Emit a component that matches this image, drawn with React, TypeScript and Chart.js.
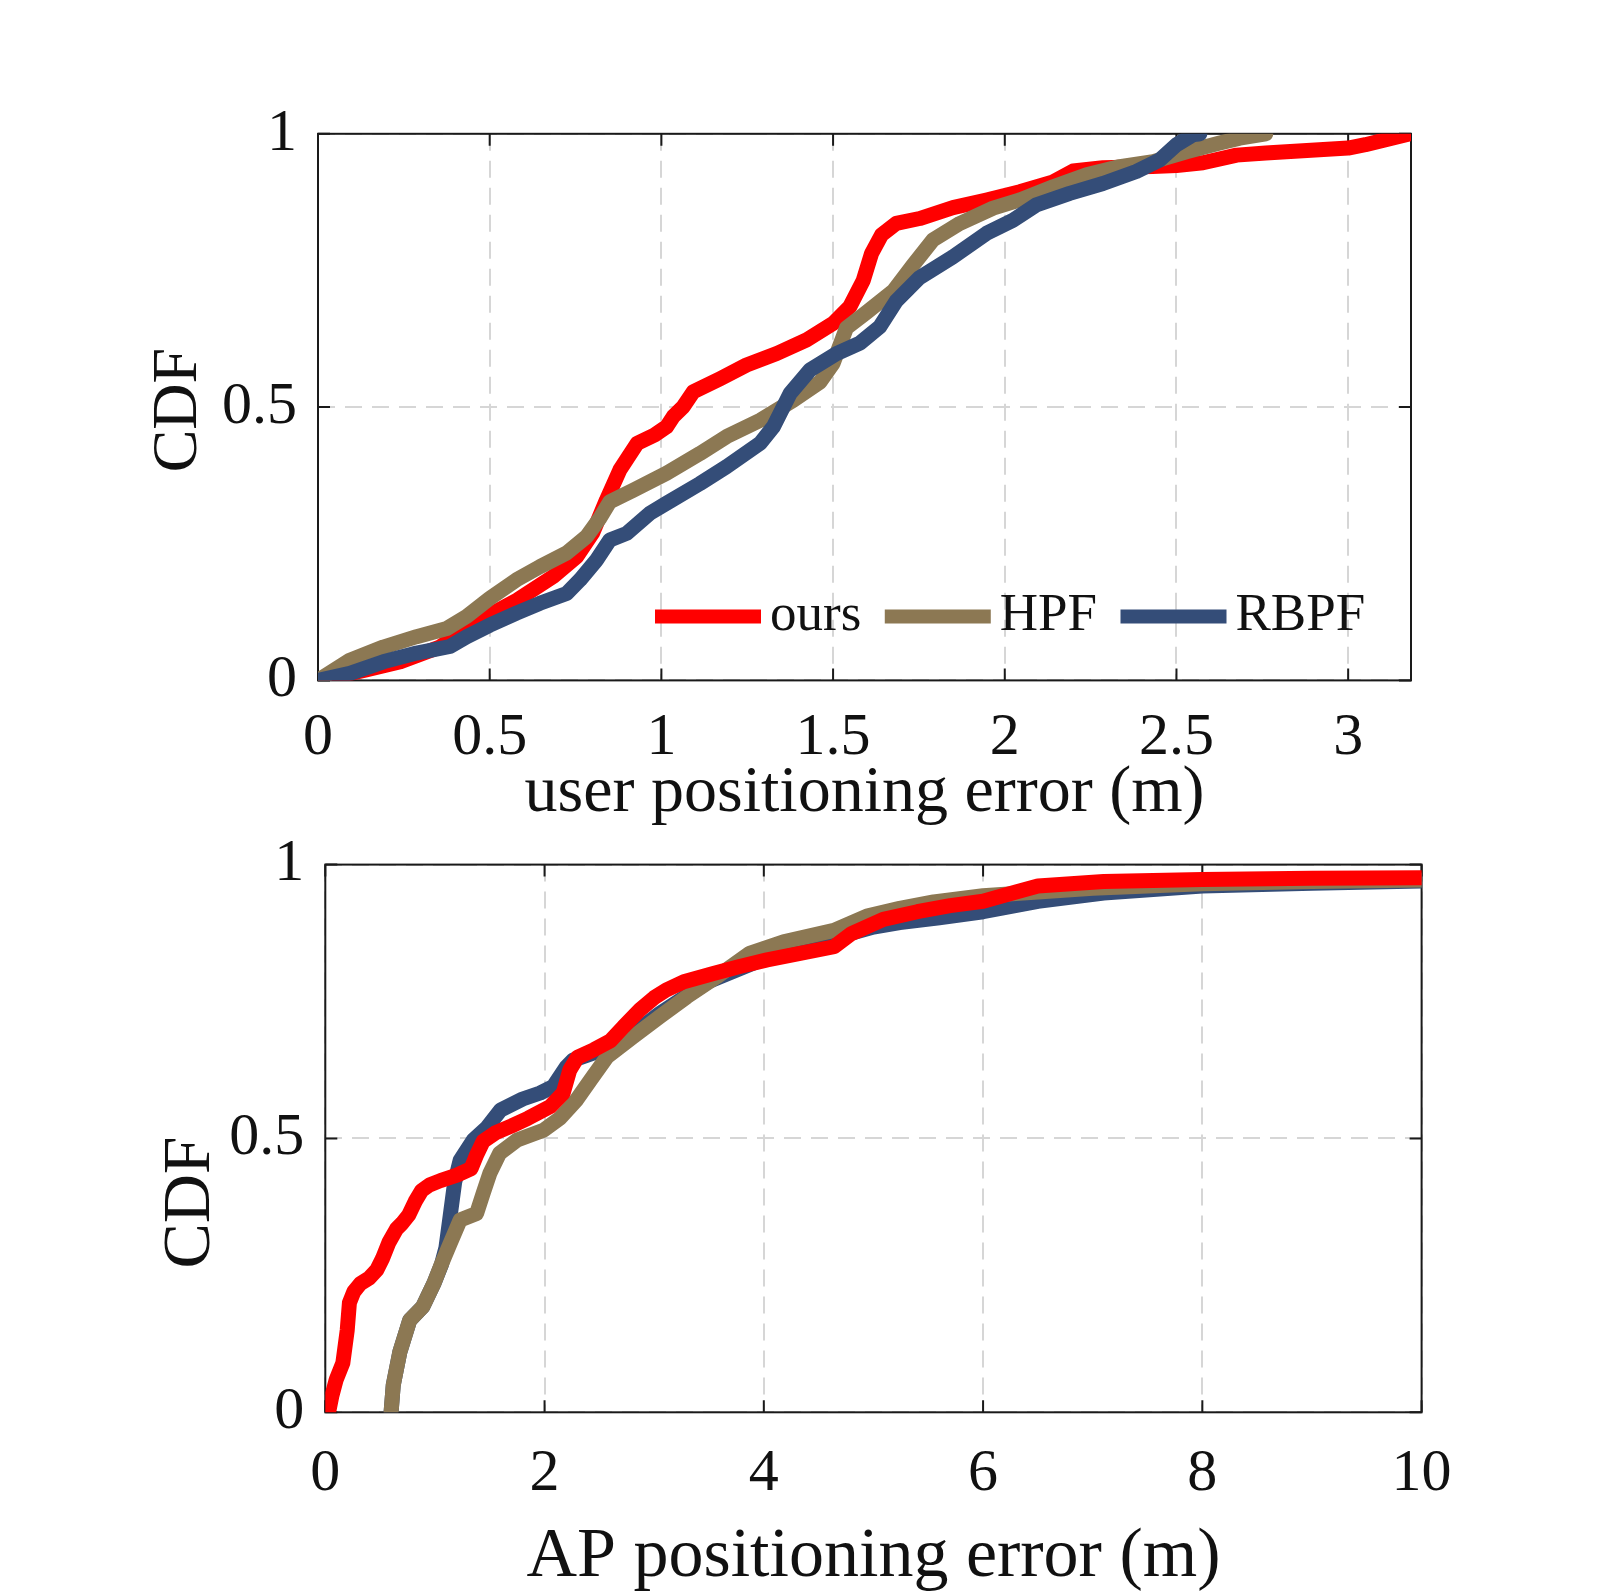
import React, { useEffect, useRef } from "react";
import { Chart, registerables } from "chart.js";

Chart.register(...registerables);

// ---------- data ----------
const seriesNames = ["ours", "HPF", "RBPF"];
const seriesColors = ["#FF0000", "#8C7853", "#344D78"];

// user positioning error (m) vs. CDF
const userOursErr = [0, 0.14, 0.24, 0.355, 0.47, 0.58, 0.685, 0.753, 0.8, 0.84, 0.879, 0.93, 0.98, 1.015, 1.035, 1.064, 1.093, 1.171, 1.248, 1.336, 1.423, 1.5, 1.549, 1.588, 1.612, 1.641, 1.684, 1.752, 1.849, 1.947, 2.044, 2.141, 2.199, 2.286, 2.43, 2.5, 2.577, 2.675, 2.76, 3.0, 3.05, 3.18];
const userOursCdf = [0, 0.019, 0.034, 0.061, 0.11, 0.147, 0.19, 0.226, 0.27, 0.33, 0.385, 0.434, 0.449, 0.464, 0.483, 0.501, 0.528, 0.552, 0.577, 0.598, 0.623, 0.653, 0.684, 0.732, 0.781, 0.815, 0.836, 0.845, 0.865, 0.879, 0.894, 0.912, 0.932, 0.938, 0.94, 0.942, 0.947, 0.961, 0.965, 0.974, 0.98, 1.0];

const userHpfErr = [0, 0.093, 0.19, 0.287, 0.375, 0.433, 0.5, 0.578, 0.646, 0.724, 0.782, 0.821, 0.85, 0.918, 1.015, 1.112, 1.19, 1.288, 1.385, 1.462, 1.5, 1.539, 1.597, 1.675, 1.733, 1.791, 1.869, 1.966, 2.044, 2.141, 2.238, 2.335, 2.432, 2.529, 2.626, 2.684, 2.76];
const userHpfCdf = [0, 0.037, 0.061, 0.08, 0.095, 0.117, 0.15, 0.184, 0.208, 0.233, 0.263, 0.297, 0.327, 0.348, 0.379, 0.415, 0.446, 0.476, 0.513, 0.546, 0.58, 0.645, 0.673, 0.712, 0.76, 0.806, 0.836, 0.864, 0.879, 0.903, 0.925, 0.94, 0.949, 0.967, 0.983, 0.992, 1.0];

const userRbpfErr = [0, 0.093, 0.19, 0.287, 0.384, 0.433, 0.5, 0.578, 0.646, 0.724, 0.763, 0.811, 0.85, 0.899, 0.967, 1.015, 1.112, 1.19, 1.288, 1.326, 1.375, 1.433, 1.51, 1.578, 1.636, 1.684, 1.752, 1.849, 1.947, 2.024, 2.092, 2.189, 2.286, 2.383, 2.451, 2.5, 2.548, 2.568];
const userRbpfCdf = [0, 0.013, 0.034, 0.05, 0.062, 0.08, 0.101, 0.123, 0.141, 0.159, 0.184, 0.22, 0.257, 0.269, 0.306, 0.324, 0.36, 0.391, 0.434, 0.464, 0.525, 0.568, 0.598, 0.617, 0.647, 0.694, 0.737, 0.775, 0.818, 0.842, 0.87, 0.891, 0.909, 0.931, 0.952, 0.98, 0.998, 1.0];

// AP positioning error (m) vs. CDF
const apOursErr = [0.03, 0.06, 0.1, 0.16, 0.2, 0.22, 0.26, 0.32, 0.4, 0.47, 0.52, 0.58, 0.65, 0.7, 0.76, 0.82, 0.88, 0.95, 1.05, 1.2, 1.33, 1.38, 1.44, 1.55, 1.7, 1.85, 2.05, 2.17, 2.23, 2.3, 2.45, 2.6, 2.72, 2.87, 3.0, 3.11, 3.27, 3.54, 3.78, 4.03, 4.33, 4.64, 4.8, 5.09, 5.4, 5.7, 6.0, 6.3, 6.5, 7.1, 8.0, 9.0, 10.0];
const apOursCdf = [0, 0.03, 0.06, 0.09, 0.15, 0.2, 0.22, 0.235, 0.245, 0.26, 0.28, 0.31, 0.335, 0.345, 0.36, 0.385, 0.405, 0.415, 0.423, 0.433, 0.445, 0.47, 0.495, 0.51, 0.523, 0.537, 0.558, 0.583, 0.625, 0.648, 0.662, 0.678, 0.704, 0.735, 0.757, 0.771, 0.786, 0.801, 0.814, 0.826, 0.838, 0.85, 0.874, 0.9, 0.914, 0.925, 0.933, 0.95, 0.961, 0.969, 0.973, 0.975, 0.976];

const apHpfErr = [0.6, 0.62, 0.68, 0.77, 0.89, 0.99, 1.05, 1.14, 1.23, 1.38, 1.44, 1.5, 1.59, 1.75, 1.99, 2.14, 2.29, 2.42, 2.57, 2.81, 3.05, 3.3, 3.57, 3.87, 4.18, 4.64, 4.94, 5.24, 5.55, 6.0, 7.0, 8.0, 9.0, 10.0];
const apHpfCdf = [0, 0.05, 0.11, 0.168, 0.193, 0.235, 0.266, 0.309, 0.351, 0.363, 0.4, 0.436, 0.473, 0.497, 0.515, 0.537, 0.57, 0.607, 0.649, 0.686, 0.722, 0.759, 0.795, 0.838, 0.859, 0.88, 0.906, 0.92, 0.932, 0.943, 0.957, 0.965, 0.969, 0.972];

const apRbpfErr = [0.6, 0.62, 0.68, 0.77, 0.89, 0.99, 1.06, 1.1, 1.14, 1.18, 1.23, 1.35, 1.47, 1.6, 1.8, 1.96, 2.08, 2.2, 2.26, 2.5, 2.8, 3.05, 3.5, 4.0, 4.5, 5.0, 5.24, 5.6, 6.0, 6.5, 7.1, 8.0, 9.0, 10.0];
const apRbpfCdf = [0, 0.05, 0.11, 0.168, 0.193, 0.235, 0.27, 0.3, 0.36, 0.42, 0.46, 0.497, 0.519, 0.552, 0.572, 0.583, 0.595, 0.631, 0.643, 0.66, 0.69, 0.728, 0.787, 0.828, 0.858, 0.886, 0.894, 0.903, 0.914, 0.933, 0.948, 0.961, 0.966, 0.97];

const userXTicks = [0, 0.5, 1, 1.5, 2, 2.5, 3];
const apXTicks = [0, 2, 4, 6, 8, 10];
const cdfTicks = [0, 0.5, 1];

// ---------- styling ----------
const FONT = "'Liberation Serif', 'Times New Roman', Times, serif";
const TEXT = "#111111";
const FRAME = "#1a1a1a";
const GRID = "#d6d6d6";
const LINE_WIDTH = 15;

const toPoints = (xs: number[], ys: number[]) => xs.map((x, i) => ({ x, y: ys[i] }));

// axes box + inward tick marks on all four sides
const boxTicks = {
  id: "boxTicks",
  beforeDatasetsDraw(chart: any) {
    const { ctx, chartArea: a, scales } = chart;
    const len = 12;
    ctx.save();
    ctx.strokeStyle = FRAME;
    ctx.lineWidth = 2;
    ctx.beginPath();
    scales.x.ticks.forEach((t: any) => {
      const px = scales.x.getPixelForValue(t.value);
      ctx.moveTo(px, a.bottom);
      ctx.lineTo(px, a.bottom - len);
      ctx.moveTo(px, a.top);
      ctx.lineTo(px, a.top + len);
    });
    scales.y.ticks.forEach((t: any) => {
      const py = scales.y.getPixelForValue(t.value);
      ctx.moveTo(a.left, py);
      ctx.lineTo(a.left + len, py);
      ctx.moveTo(a.right, py);
      ctx.lineTo(a.right - len, py);
    });
    ctx.stroke();
    ctx.strokeRect(a.left, a.top, a.right - a.left, a.bottom - a.top);
    ctx.restore();
  },
};

// rotated y-axis caption
const sideTitle = {
  id: "sideTitle",
  afterDraw(chart: any, _args: any, opts: any) {
    const { ctx, chartArea: a } = chart;
    ctx.save();
    ctx.translate(a.left + opts.dx, (a.top + a.bottom) / 2 + opts.dy);
    ctx.rotate(-Math.PI / 2);
    ctx.font = `${opts.size}px ${FONT}`;
    ctx.fillStyle = TEXT;
    ctx.textAlign = "center";
    ctx.textBaseline = "middle";
    ctx.fillText(opts.text, 0, 0);
    ctx.restore();
  },
};

// horizontal legend drawn inside the plot area
const inlineLegend = {
  id: "inlineLegend",
  afterDatasetsDraw(chart: any, _args: any, opts: any) {
    if (!opts || !opts.show) return;
    const { ctx, chartArea: a } = chart;
    ctx.save();
    ctx.font = `${opts.size}px ${FONT}`;
    ctx.textBaseline = "middle";
    ctx.textAlign = "left";
    let x = a.right - opts.fromRight;
    const y = a.bottom - opts.fromBottom;
    chart.data.datasets.forEach((ds: any) => {
      ctx.strokeStyle = ds.borderColor;
      ctx.lineWidth = opts.barWidth;
      ctx.lineCap = "butt";
      ctx.beginPath();
      ctx.moveTo(x, y);
      ctx.lineTo(x + opts.barLen, y);
      ctx.stroke();
      x += opts.barLen + opts.textGap;
      ctx.fillStyle = TEXT;
      ctx.fillText(ds.label, x, y);
      x += ctx.measureText(ds.label).width + opts.itemGap;
    });
    ctx.restore();
  },
};

type PanelSpec = {
  xs: number[][];
  ys: number[][];
  orders: number[];
  xMax: number;
  xTicks: number[];
  xTitle: string;
  titleSize: number;
  titlePad: number;
  tickSize: number;
  tickPad: number;
  padTop: number;
  padRight: number;
  padBottom: number;
  yAxisWidth: number;
  xAxisHeight: number;
  sideTitle: any;
  legend: any;
};

function buildConfig(p: PanelSpec): any {
  const tickFont = { family: FONT, size: p.tickSize, lineHeight: 1 };
  return {
    type: "line",
    data: {
      datasets: seriesNames.map((name, i) => ({
        label: name,
        data: toPoints(p.xs[i], p.ys[i]),
        borderColor: seriesColors[i],
        backgroundColor: seriesColors[i],
        borderWidth: LINE_WIDTH,
        pointRadius: 0,
        tension: 0,
        fill: false,
        borderJoinStyle: "round",
        borderCapStyle: "round",
        order: p.orders[i],
      })),
    },
    options: {
      responsive: false,
      maintainAspectRatio: false,
      devicePixelRatio: 1,
      animation: false,
      events: [],
      layout: { padding: { top: p.padTop, left: 0, right: p.padRight, bottom: p.padBottom } },
      scales: {
        x: {
          type: "linear",
          min: 0,
          max: p.xMax,
          afterBuildTicks: (s: any) => {
            s.ticks = p.xTicks.map((v) => ({ value: v }));
          },
          afterFit: (s: any) => {
            s.height = p.xAxisHeight;
          },
          ticks: {
            font: tickFont,
            color: TEXT,
            padding: p.tickPad,
            maxRotation: 0,
            autoSkip: false,
            callback: (v: number) => String(v),
          },
          grid: { color: GRID, lineWidth: 2, drawTicks: false },
          border: { display: false, dash: [17, 10] },
          title: {
            display: true,
            text: p.xTitle,
            color: TEXT,
            font: { family: FONT, size: p.titleSize, lineHeight: 1 },
            padding: { top: 0, bottom: p.titlePad },
          },
        },
        y: {
          type: "linear",
          min: 0,
          max: 1,
          afterBuildTicks: (s: any) => {
            s.ticks = cdfTicks.map((v) => ({ value: v }));
          },
          afterFit: (s: any) => {
            s.width = p.yAxisWidth;
          },
          ticks: {
            font: tickFont,
            color: TEXT,
            padding: 21,
            autoSkip: false,
            callback: (v: number) => String(v),
          },
          grid: { color: GRID, lineWidth: 2, drawTicks: false },
          border: { display: false, dash: [17, 10] },
        },
      },
      plugins: {
        legend: { display: false },
        tooltip: { enabled: false },
        sideTitle: p.sideTitle,
        inlineLegend: p.legend,
      },
    },
    plugins: [boxTicks, sideTitle, inlineLegend],
  };
}

const W = 1614;
const H = 1594;

export default function App() {
  const topRef = useRef<HTMLCanvasElement>(null);
  const bottomRef = useRef<HTMLCanvasElement>(null);

  useEffect(() => {
    const top = new Chart(
      topRef.current as HTMLCanvasElement,
      buildConfig({
        xs: [userOursErr, userHpfErr, userRbpfErr],
        ys: [userOursCdf, userHpfCdf, userRbpfCdf],
        orders: [3, 2, 1],
        xMax: 3.183,
        xTicks: userXTicks,
        xTitle: "user positioning error (m)",
        titleSize: 66,
        titlePad: 4,
        tickSize: 60,
        tickPad: 28,
        padTop: 133.8,
        padRight: 203,
        padBottom: 763.6,
        yAxisWidth: 318,
        xAxisHeight: 150,
        sideTitle: { text: "CDF", size: 64, dx: -139, dy: 3 },
        legend: { show: true, size: 53, fromRight: 756, fromBottom: 64, barLen: 106, barWidth: 14, textGap: 9, itemGap: 23.5 },
      })
    );
    const bottom = new Chart(
      bottomRef.current as HTMLCanvasElement,
      buildConfig({
        xs: [apOursErr, apHpfErr, apRbpfErr],
        ys: [apOursCdf, apHpfCdf, apRbpfCdf],
        orders: [0, 0, 0],
        xMax: 10,
        xTicks: apXTicks,
        xTitle: "AP positioning error (m)",
        titleSize: 70,
        titlePad: 1,
        tickSize: 60,
        tickPad: 32,
        padTop: 864.6,
        padRight: 192.4,
        padBottom: 0,
        yAxisWidth: 325.3,
        xAxisHeight: 181.7,
        sideTitle: { text: "CDF", size: 68, dx: -134, dy: 64 },
        legend: { show: false },
      })
    );
    return () => {
      top.destroy();
      bottom.destroy();
    };
  }, []);

  const canvasStyle: React.CSSProperties = { position: "absolute", left: 0, top: 0, width: W, height: H };
  return (
    <div style={{ position: "absolute", left: 0, top: 0, width: W, height: H, background: "#ffffff", overflow: "hidden" }}>
      <canvas ref={topRef} width={W} height={H} style={canvasStyle} />
      <canvas ref={bottomRef} width={W} height={H} style={canvasStyle} />
    </div>
  );
}
